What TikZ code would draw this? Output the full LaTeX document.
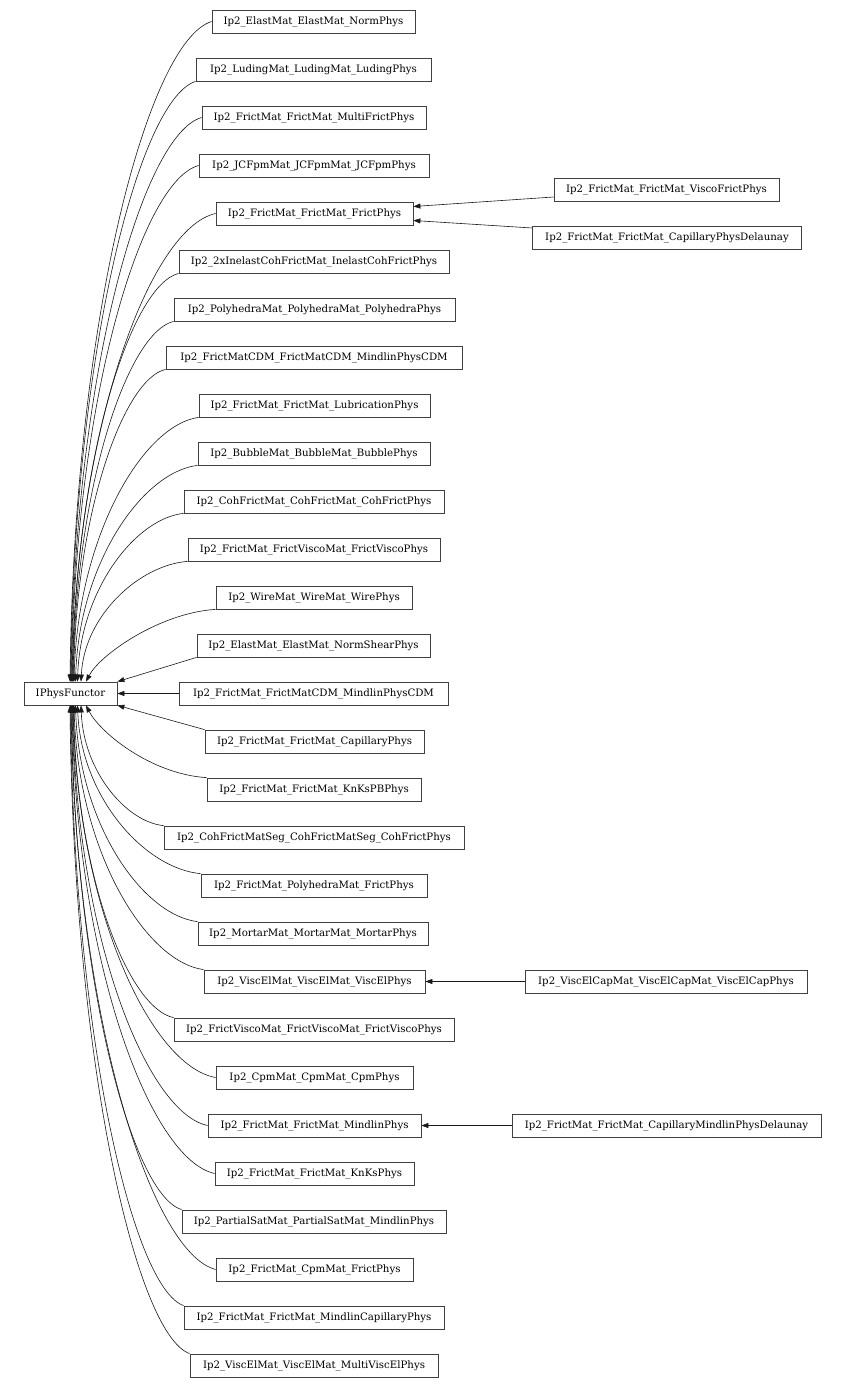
\documentclass[tikz,border=0pt]{standalone}
\usepackage{fontspec}
\setmainfont{DejaVu Serif}
\usetikzlibrary{arrows.meta,calc}
\begin{document}
\begin{tikzpicture}[x=1pt,y=-1pt,
  cls/.style={draw=black!75, line width=0.75pt, fill=white, minimum height=23pt, inner sep=0pt, font=\fontsize{10.2}{12}\selectfont},
  edge/.style={draw=black!90, line width=0.6pt, -{Triangle[length=7pt,width=5pt]}}]
\useasboundingbox[fill=white] (0,0) rectangle (846,1388);
\node[cls, minimum width=93pt] (base) at (70.5,693.5) {IPhysFunctor};
\foreach \k/\cx/\w/\t in {
 0/313.5/203/Ip2\_ElastMat\_ElastMat\_NormPhys,
 1/313.5/235/Ip2\_LudingMat\_LudingMat\_LudingPhys,
 2/314/224/Ip2\_FrictMat\_FrictMat\_MultiFrictPhys,
 3/314/230/Ip2\_JCFpmMat\_JCFpmMat\_JCFpmPhys,
 4/314.5/197/Ip2\_FrictMat\_FrictMat\_FrictPhys,
 5/314/270/Ip2\_2xInelastCohFrictMat\_InelastCohFrictPhys,
 6/314.5/281/Ip2\_PolyhedraMat\_PolyhedraMat\_PolyhedraPhys,
 7/314/296/Ip2\_FrictMatCDM\_FrictMatCDM\_MindlinPhysCDM,
 8/314.5/231/Ip2\_FrictMat\_FrictMat\_LubricationPhys,
 9/314/232/Ip2\_BubbleMat\_BubbleMat\_BubblePhys,
 10/314/260/Ip2\_CohFrictMat\_CohFrictMat\_CohFrictPhys,
 11/314/252/Ip2\_FrictMat\_FrictViscoMat\_FrictViscoPhys,
 12/314/196/Ip2\_WireMat\_WireMat\_WirePhys,
 13/313.5/233/Ip2\_ElastMat\_ElastMat\_NormShearPhys,
 14/313.5/269/Ip2\_FrictMat\_FrictMatCDM\_MindlinPhysCDM,
 15/314.5/219/Ip2\_FrictMat\_FrictMat\_CapillaryPhys,
 16/314/214/Ip2\_FrictMat\_FrictMat\_KnKsPBPhys,
 17/314/300/Ip2\_CohFrictMatSeg\_CohFrictMatSeg\_CohFrictPhys,
 18/314/226/Ip2\_FrictMat\_PolyhedraMat\_FrictPhys,
 19/313/230/Ip2\_MortarMat\_MortarMat\_MortarPhys,
 20/314.5/221/Ip2\_ViscElMat\_ViscElMat\_ViscElPhys,
 21/314/280/Ip2\_FrictViscoMat\_FrictViscoMat\_FrictViscoPhys,
 22/314.5/197/Ip2\_CpmMat\_CpmMat\_CpmPhys,
 23/314.5/213/Ip2\_FrictMat\_FrictMat\_MindlinPhys,
 24/314.5/199/Ip2\_FrictMat\_FrictMat\_KnKsPhys,
 25/314/264/Ip2\_PartialSatMat\_PartialSatMat\_MindlinPhys,
 26/314.5/197/Ip2\_FrictMat\_CpmMat\_FrictPhys,
 27/314/260/Ip2\_FrictMat\_FrictMat\_MindlinCapillaryPhys,
 28/314/248/Ip2\_ViscElMat\_ViscElMat\_MultiViscElPhys}
 {\node[cls, minimum width=\w pt] (c\k) at (\cx,{21.5+48*\k}) {\t};}
\node[cls, minimum width=225pt] (r1) at (666.5,189.5) {Ip2\_FrictMat\_FrictMat\_ViscoFrictPhys};
\node[cls, minimum width=269pt] (r2) at (667,237.5) {Ip2\_FrictMat\_FrictMat\_CapillaryPhysDelaunay};
\node[cls, minimum width=282pt] (r3) at (666,981.5) {Ip2\_ViscElCapMat\_ViscElCapMat\_ViscElCapPhys};
\node[cls, minimum width=309pt] (r4) at (666.5,1125.5) {Ip2\_FrictMat\_FrictMat\_CapillaryMindlinPhysDelaunay};
% upper curved edges (let-values carry pt, so y is in canvas direction: up is positive)
\foreach \k/\tx/\an in {0/70/west,1/70.5/south west,2/71/west,3/71.5/west,4/72/west,5/72.5/south west,6/73/south west,7/73.5/south west,8/74/south west,9/75.5/south west,10/77.5/south west,11/81/south west}
 {\draw[edge] let \p1=(c\k.\an), \n1={\x1-\tx pt}, \n2={682pt+\y1} in
   (\p1) .. controls +(-0.45*\n1,-0.03*\n2) and +(0.03*\n1,0.55*\n2) .. ({\tx},0 |- base.north);}
\draw[edge] (c12.south west) .. controls +(-56,3.5) and +(14,-27) .. (86,0 |- base.north);
% lower curved edges
\foreach \k/\tx/\an in {17/81/north west,18/77.5/north west,19/75.5/north west,20/74/north west,21/73.5/north west,22/73/west,23/72.5/west,24/72/west,25/71.5/north west,26/71/west,27/70.5/north west,28/70/north west}
 {\draw[edge] let \p1=(c\k.\an), \n1={\x1-\tx pt}, \n2={-\y1-705pt} in
   (\p1) .. controls +(-0.45*\n1,0.03*\n2) and +(0.03*\n1,-0.55*\n2) .. ({\tx},0 |- base.south);}
\draw[edge] (c16.north west) .. controls +(-56,-3.5) and +(14,27) .. (86,0 |- base.south);
% straight edges
\draw[edge] (c13.south west) -- (base.north east);
\draw[edge] (c14.west) -- (base.east);
\draw[edge] (c15.north west) -- (base.south east);
\draw[edge] ($(r1.west)+(0,7.5)$) -- ($(c4.east)+(0,-7)$);
\draw[edge] ($(r2.west)+(0,-9.5)$) -- ($(c4.east)+(0,7)$);
\draw[edge] (r3.west) -- (c20.east);
\draw[edge] (r4.west) -- (c23.east);
\end{tikzpicture}
\end{document}
